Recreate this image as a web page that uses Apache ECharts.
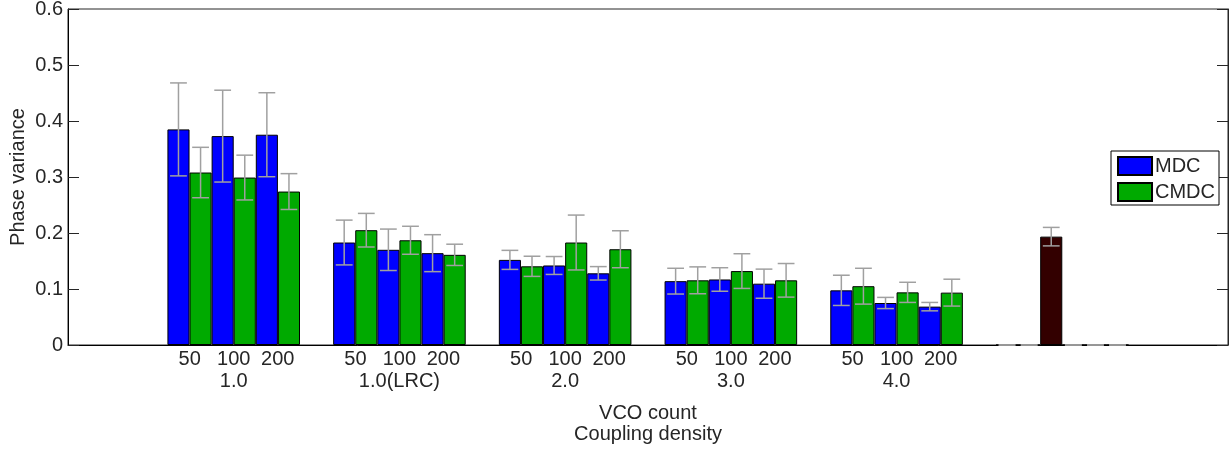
<!DOCTYPE html>
<html>
<head>
<meta charset="utf-8">
<script src="https://cdn.jsdelivr.net/npm/echarts@6/dist/echarts.min.js"></script>
<style>
html,body{margin:0;padding:0;background:#fff;}
#chart{width:1230px;height:452px;}
</style>
</head>
<body>
<div id="chart"></div>
<script>
// Coupling densities (groups) and VCO counts (bars within a group)
const densities = ['1.0', '1.0(LRC)', '2.0', '3.0', '4.0'];
const vcoCounts = ['50', '100', '200'];
// mean phase variance, indexed [vcoCountIndex][densityIndex]
const mdc = [
  [0.385, 0.183, 0.152, 0.114, 0.0976],
  [0.373, 0.170, 0.142, 0.117, 0.075],
  [0.3755, 0.164, 0.128, 0.1095, 0.0685]
];
const mdcErr = [
  [0.083, 0.040, 0.017, 0.023, 0.027],
  [0.082, 0.037, 0.016, 0.021, 0.010],
  [0.075, 0.033, 0.012, 0.026, 0.0075]
];
const cmdc = [
  [0.308, 0.205, 0.1405, 0.1155, 0.105],
  [0.299, 0.187, 0.183, 0.132, 0.094],
  [0.274, 0.161, 0.171, 0.1155, 0.0935]
];
const cmdcErr = [
  [0.045, 0.030, 0.018, 0.024, 0.032],
  [0.040, 0.025, 0.049, 0.031, 0.018],
  [0.032, 0.019, 0.033, 0.030, 0.024]
];
// extra (unlabelled) reference group
const refValue = 0.1935;
const refErr = 0.0165;
const refSlot = 2;
const yTicks = [0, 0.1, 0.2, 0.3, 0.4, 0.5, 0.6];

const FONT = "'Liberation Sans', Arial, Helvetica, sans-serif";
const TXT = '#262626';
const colors = { MDC: '#0000ff', CMDC: '#00aa00', ref: '#330000' };

// axis: index 0 and last = padding, groups at 1..5, reference group at 6
const axisData = [''].concat(densities, ['', '']);
const refIndex = densities.length + 1;

const series = [];
const errData = [];
for (let v = 0; v < vcoCounts.length; v++) {
  [['MDC', mdc, mdcErr], ['CMDC', cmdc, cmdcErr]].forEach(([name, vals, errs], k) => {
    const slot = v * 2 + k;
    const data = axisData.map(() => null);
    densities.forEach((d, i) => {
      data[i + 1] = vals[v][i];
      errData.push([i + 1, slot, vals[v][i], errs[v][i]]);
    });
    if (slot === refSlot) {
      data[refIndex] = { value: refValue, itemStyle: { color: colors.ref } };
      errData.push([refIndex, slot, refValue, refErr]);
    } else {
      data[refIndex] = 0;
      errData.push([refIndex, slot, 0, 0]);
    }
    series.push({
      type: 'bar',
      name: name,
      data: data,
      barGap: '0%',
      barCategoryGap: '20%',
      itemStyle: { color: colors[name], borderColor: '#000', borderWidth: 1 },
      emphasis: { disabled: true },
      z: 2
    });
  });
}

series.push({
  type: 'custom',
  name: 'err',
  data: errData,
  encode: { x: 0, y: 2 },
  z: 5,
  silent: true,
  renderItem: function (params, api) {
    const idx = api.value(0);
    const slot = api.value(1);
    const mean = api.value(2);
    const err = api.value(3);
    const unit = api.coord([1, 0])[0] - api.coord([0, 0])[0];
    const bw = unit * 0.8 / 6;
    const cx = api.coord([idx, 0])[0] + (slot - 2.5) * bw;
    const yt = api.coord([idx, mean + err])[1];
    const yb = api.coord([idx, mean - err])[1];
    const cw = bw * 0.38;
    const st = { stroke: '#a0a0a0', lineWidth: 1.5 };
    return {
      type: 'group',
      children: [
        { type: 'line', shape: { x1: cx, y1: yt, x2: cx, y2: yb }, style: st },
        { type: 'line', shape: { x1: cx - cw, y1: yt, x2: cx + cw, y2: yt }, style: st },
        { type: 'line', shape: { x1: cx - cw, y1: yb, x2: cx + cw, y2: yb }, style: st }
      ]
    };
  }
});

const chart = echarts.init(document.getElementById('chart'), null, { renderer: 'canvas' });
chart.setOption({
  animation: false,
  backgroundColor: '#fff',
  textStyle: { fontFamily: FONT, color: TXT },
  grid: { left: 68, right: 2, top: 9, bottom: 107, show: true, borderColor: '#262626', borderWidth: 1,
    backgroundColor: 'transparent', containLabel: false, outerBoundsMode: 'none' },
  legend: {
    data: ['MDC', 'CMDC'],
    orient: 'vertical',
    right: 11,
    top: 151,
    icon: 'rect',
    itemWidth: 34,
    itemHeight: 18,
    itemGap: 6,
    padding: [5, 4, 3, 6],
    borderColor: '#000',
    borderWidth: 1,
    backgroundColor: '#fff',
    selectedMode: false,
    textStyle: { fontSize: 20, color: TXT, fontFamily: FONT, padding: [0, 0, 0, -2] }
  },
  xAxis: {
    type: 'category',
    data: axisData,
    boundaryGap: false,
    axisLine: { lineStyle: { color: '#000', width: 1 } },
    axisTick: { show: false },
    splitLine: { show: false },
    name: 'VCO count\nCoupling density',
    nameLocation: 'middle',
    nameGap: 58,
    nameMoveOverlap: false,
    nameTextStyle: { fontSize: 20, color: TXT, lineHeight: 21, fontFamily: FONT },
    axisLabel: {
      interval: 0,
      margin: 3,
      color: TXT,
      fontFamily: FONT,
      formatter: function (val) {
        if (!val) return '';
        return vcoCounts.map(c => '{c|' + c + '}').join('') + '\n{g|' + val + '}';
      },
      rich: {
        c: { width: 44, align: 'center', fontSize: 20, lineHeight: 22, color: TXT, fontFamily: FONT },
        g: { align: 'center', fontSize: 20, lineHeight: 22, color: TXT, fontFamily: FONT }
      }
    }
  },
  yAxis: [{
    type: 'value',
    min: yTicks[0],
    max: yTicks[yTicks.length - 1],
    interval: 0.1,
    position: 'left',
    axisLine: { show: true, lineStyle: { color: '#000', width: 1 } },
    axisTick: { show: true, inside: true, length: 11, lineStyle: { color: '#262626' } },
    splitLine: { show: false },
    axisLabel: { fontSize: 20, color: TXT, margin: 5, fontFamily: FONT,
      formatter: v => (v === 0 ? '0' : v.toFixed(1)) },
    name: 'Phase variance',
    nameLocation: 'middle',
    nameGap: 40,
    nameMoveOverlap: false,
    nameTextStyle: { fontSize: 20, color: TXT, fontFamily: FONT }
  }, {
    type: 'value',
    min: yTicks[0],
    max: yTicks[yTicks.length - 1],
    interval: 0.1,
    position: 'right',
    axisLine: { show: true, lineStyle: { color: '#262626', width: 1 } },
    axisTick: { show: true, inside: true, length: 11, lineStyle: { color: '#262626' } },
    splitLine: { show: false },
    axisLabel: { show: false }
  }],
  series: series
});
</script>
</body>
</html>
